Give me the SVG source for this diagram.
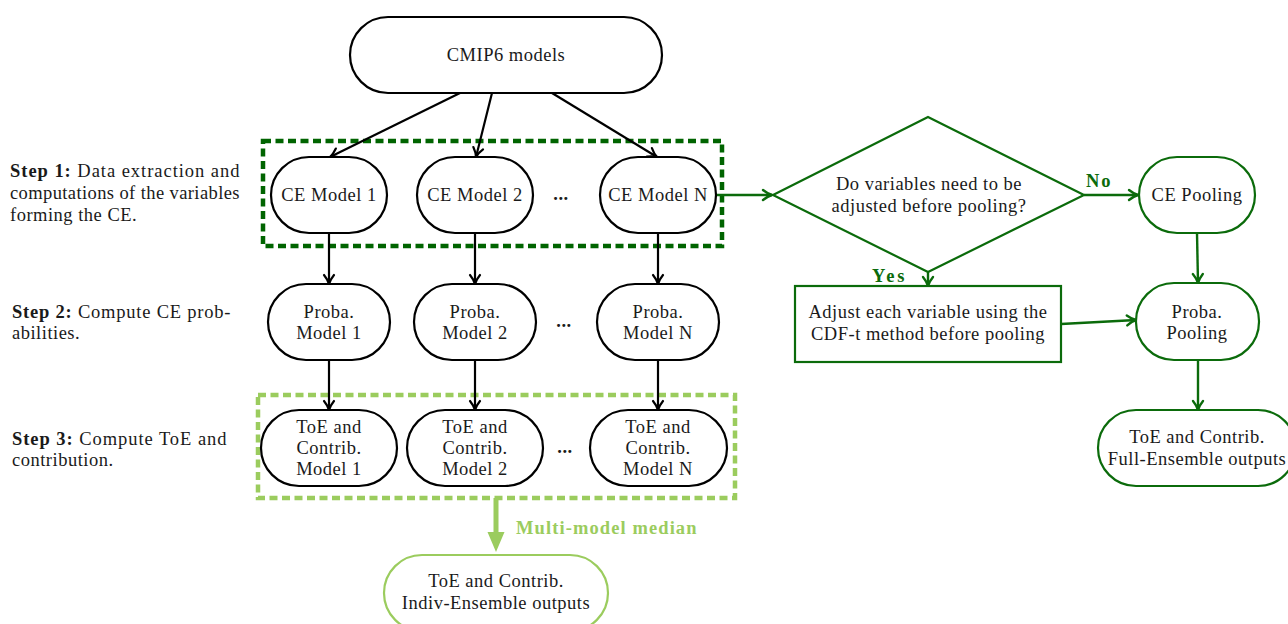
<svg xmlns="http://www.w3.org/2000/svg" width="1288" height="624" viewBox="0 0 1288 624">
<defs>
<style>
.t{font-family:"Liberation Serif","Times New Roman",serif;font-size:18.5px;fill:#1a1a1a;letter-spacing:0.5px}
.c{text-anchor:middle}
.b{font-weight:bold}
.nd{fill:#fff;stroke:#000;stroke-width:2.2}
.gn{fill:#fff;stroke:#0b6b0b;stroke-width:2.2}
.lg{fill:#fff;stroke:#9bcc5e;stroke-width:2.2}
.ln{stroke:#000;stroke-width:2.2;fill:none}
.gl{stroke:#0b6b0b;stroke-width:2.4;fill:none}
.gt{fill:#0b6b0b;font-weight:bold}
</style>
<marker id="ab" markerWidth="16" markerHeight="16" refX="12" refY="8" orient="auto" markerUnits="userSpaceOnUse" overflow="visible">
<path d="M3,3 Q8,7 12,8 Q8,9 3,13" fill="none" stroke="#000" stroke-width="2.2" stroke-linecap="round" stroke-linejoin="round"/>
</marker>
<marker id="ag" markerWidth="16" markerHeight="16" refX="12" refY="8" orient="auto" markerUnits="userSpaceOnUse" overflow="visible">
<path d="M3,3 Q8,7 12,8 Q8,9 3,13" fill="none" stroke="#0b6b0b" stroke-width="2.4" stroke-linecap="round" stroke-linejoin="round"/>
</marker>
</defs>
<rect width="1288" height="624" fill="#fff"/>

<g id="step-labels">
<text class="t" x="10" y="177" textLength="230"><tspan class="b">Step 1:</tspan> Data extraction and</text>
<text class="t" x="10" y="199" textLength="230">computations of the variables</text>
<text class="t" x="10" y="221">forming the CE.</text>
<text class="t" x="12" y="318" textLength="219"><tspan class="b">Step 2:</tspan> Compute CE prob-</text>
<text class="t" x="12" y="339">abilities.</text>
<text class="t" x="12" y="445" textLength="215"><tspan class="b">Step 3:</tspan> Compute ToE and</text>
<text class="t" x="12" y="466">contribution.</text>
</g>

<g id="group-boxes">
<rect x="263" y="141" width="459" height="105" fill="none" stroke="#006400" stroke-width="4.5" stroke-dasharray="8 4.5"/>
<rect x="258" y="395" width="477" height="103" fill="none" stroke="#9bcc5e" stroke-width="4.5" stroke-dasharray="8 4.5"/>
</g>

<g id="connectors">
<line class="ln" x1="460" y1="93" x2="330" y2="157" marker-end="url(#ab)"/>
<line class="ln" x1="492" y1="93" x2="476" y2="157" marker-end="url(#ab)"/>
<line class="ln" x1="552" y1="93" x2="657" y2="157" marker-end="url(#ab)"/>
<line class="ln" x1="329" y1="233" x2="329" y2="284" marker-end="url(#ab)"/>
<line class="ln" x1="475" y1="233" x2="475" y2="284" marker-end="url(#ab)"/>
<line class="ln" x1="658" y1="233" x2="658" y2="284" marker-end="url(#ab)"/>
<line class="ln" x1="329" y1="360" x2="329" y2="410" marker-end="url(#ab)"/>
<line class="ln" x1="475" y1="360" x2="475" y2="410" marker-end="url(#ab)"/>
<line class="ln" x1="658" y1="360" x2="658" y2="410" marker-end="url(#ab)"/>
<line class="gl" x1="716" y1="195" x2="772" y2="195" marker-end="url(#ag)"/>
<line class="gl" x1="1084" y1="195" x2="1138" y2="195" marker-end="url(#ag)"/>
<line class="gl" x1="928" y1="272" x2="928" y2="286" marker-end="url(#ag)"/>
<line class="gl" x1="1197" y1="233" x2="1198" y2="283" marker-end="url(#ag)"/>
<line class="gl" x1="1061" y1="324" x2="1136" y2="320" marker-end="url(#ag)"/>
<line class="gl" x1="1198" y1="360" x2="1198" y2="410" marker-end="url(#ag)"/>
<path d="M493.5,498 L498.5,498 L498.5,532 L504.5,532 L496,552 L487.5,532 L493.5,532 Z" fill="#9bcc5e"/>
<text class="t b" x="516" y="534" textLength="181" style="fill:#9bcc5e">Multi-model median</text>
<text class="t gt" x="1086" y="187" textLength="25">No</text>
<text class="t gt" x="872" y="282" textLength="33">Yes</text>
</g>

<g id="cmip6"><rect class="nd" x="350" y="17" width="312" height="76" rx="38"/><text class="t c" x="506" y="61">CMIP6 models</text></g>

<g id="ce1"><rect class="nd" x="271" y="157" width="116" height="76" rx="38"/><text class="t c" x="329" y="201">CE Model 1</text></g>
<g id="ce2"><rect class="nd" x="417" y="157" width="116" height="76" rx="38"/><text class="t c" x="475" y="201">CE Model 2</text></g>
<g id="ce-dots"><text class="t c b" x="561" y="200">...</text></g>
<g id="ceN"><rect class="nd" x="600" y="157" width="116" height="76" rx="38"/><text class="t c" x="658" y="201">CE Model N</text></g>

<g id="p1"><rect class="nd" x="268" y="284" width="122" height="76" rx="38"/><text class="t c" x="329" y="318">Proba.</text><text class="t c" x="329" y="339">Model 1</text></g>
<g id="p2"><rect class="nd" x="414" y="284" width="122" height="76" rx="38"/><text class="t c" x="475" y="318">Proba.</text><text class="t c" x="475" y="339">Model 2</text></g>
<g id="p-dots"><text class="t c b" x="564" y="327">...</text></g>
<g id="pN"><rect class="nd" x="597" y="284" width="122" height="76" rx="38"/><text class="t c" x="658" y="318">Proba.</text><text class="t c" x="658" y="339">Model N</text></g>

<g id="t1"><rect class="nd" x="261" y="410" width="136" height="76" rx="38"/><text class="t c" x="329" y="433">ToE and</text><text class="t c" x="329" y="454">Contrib.</text><text class="t c" x="329" y="475">Model 1</text></g>
<g id="t2"><rect class="nd" x="407" y="410" width="136" height="76" rx="38"/><text class="t c" x="475" y="433">ToE and</text><text class="t c" x="475" y="454">Contrib.</text><text class="t c" x="475" y="475">Model 2</text></g>
<g id="t-dots"><text class="t c b" x="565" y="453">...</text></g>
<g id="tN"><rect class="nd" x="590" y="410" width="137" height="76" rx="38"/><text class="t c" x="658" y="433">ToE and</text><text class="t c" x="658" y="454">Contrib.</text><text class="t c" x="658" y="475">Model N</text></g>

<g id="indiv"><rect class="lg" x="384" y="555" width="224" height="76" rx="38"/><text class="t c" x="496" y="587">ToE and Contrib.</text><text class="t c" x="496" y="609">Indiv-Ensemble outputs</text></g>

<g id="decision"><polygon class="gn" points="928,117 1084,195 928,272 773,195"/><text class="t c" x="929" y="190">Do variables need to be</text><text class="t c" x="929" y="212">adjusted before pooling?</text></g>

<g id="cepool"><rect class="gn" x="1139" y="157" width="116" height="76" rx="38"/><text class="t c" x="1197" y="201">CE Pooling</text></g>

<g id="adjust"><rect class="gn" x="795" y="286" width="266" height="76"/><text class="t c" x="928" y="318">Adjust each variable using the</text><text class="t c" x="928" y="340">CDF-t method before pooling</text></g>

<g id="ppool"><rect class="gn" x="1136" y="283" width="123" height="77" rx="38"/><text class="t c" x="1197" y="318">Proba.</text><text class="t c" x="1197" y="339">Pooling</text></g>

<g id="full"><rect class="gn" x="1098" y="410" width="198" height="76" rx="38"/><text class="t c" x="1197" y="443">ToE and Contrib.</text><text class="t c" x="1197" y="465">Full-Ensemble outputs</text></g>
</svg>
